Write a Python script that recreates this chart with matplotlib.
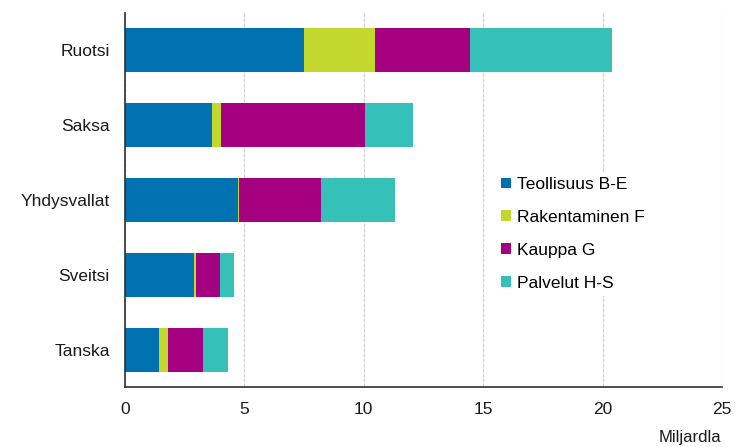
import numpy as np
import matplotlib
matplotlib.use("Agg")
import matplotlib.pyplot as plt

plt.rcParams["font.family"] = ["Liberation Sans", "DejaVu Sans"]

countries = ["Ruotsi", "Saksa", "Yhdysvallat", "Sveitsi", "Tanska"]
series_names = ["Teollisuus B-E", "Rakentaminen F", "Kauppa G", "Palvelut H-S"]
teollisuus = [7.51, 3.64, 4.72, 2.90, 1.44]
rakentaminen = [2.94, 0.40, 0.07, 0.07, 0.34]
kauppa = [4.01, 6.01, 3.40, 1.01, 1.47]
palvelut = [5.93, 2.01, 3.12, 0.60, 1.07]
colors = ["#0072b1", "#c2d82e", "#a5007f", "#35c1b8"]
xticks = [0, 5, 10, 15, 20, 25]


def main():
    fig = plt.figure(figsize=(7.38, 4.47), dpi=100)
    ax = fig.add_axes([0.1694, 0.1342, 0.8089, 0.8367])

    y = np.arange(len(countries))
    left = np.zeros(len(countries))
    for name, vals, c in zip(series_names,
                             [teollisuus, rakentaminen, kauppa, palvelut],
                             colors):
        ax.barh(y, vals, left=left, height=0.59, color=c, label=name,
                edgecolor="none", zorder=2)
        left += np.array(vals)

    ax.set_ylim(4.5, -0.5)
    ax.set_xlim(0, 25)
    ax.set_xticks(xticks)
    ax.set_yticks(y)
    ax.set_yticklabels(countries)
    ax.tick_params(axis="both", length=0, labelsize=12.5, colors="#1a1a1a")
    ax.tick_params(axis="y", pad=11)
    ax.tick_params(axis="x", pad=11)

    ax.grid(axis="x", color="#d0d0d0", linestyle=(0, (3, 1)), linewidth=0.9,
            zorder=0)
    for s in ["top", "right"]:
        ax.spines[s].set_visible(False)
    ax.spines["left"].set_color("#303030")
    ax.spines["bottom"].set_color("#303030")
    ax.spines["left"].set_linewidth(1.2)
    ax.spines["bottom"].set_linewidth(1.2)

    fig.text(0.977, 0.004, "Miljardla", ha="right", va="bottom",
             fontsize=12, color="#1a1a1a")

    leg = ax.legend(loc="upper left", bbox_to_anchor=(0.607, 0.599),
                    frameon=True, fontsize=12.5, handlelength=0.55,
                    handleheight=0.55, handletextpad=0.35, labelspacing=1.03,
                    borderpad=0.3)
    leg.get_frame().set_edgecolor("none")
    leg.get_frame().set_facecolor("white")
    leg.get_frame().set_alpha(1)

    fig.savefig("out.png", dpi=100)
    plt.close(fig)


if __name__ == "__main__":
    main()
